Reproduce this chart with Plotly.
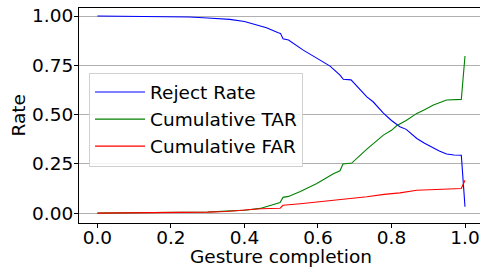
import plotly.graph_objects as go

reject_x = [0.0, 0.1, 0.2, 0.25, 0.3, 0.36, 0.40, 0.434, 0.46, 0.492, 0.498, 0.505, 0.52, 0.56, 0.60, 0.633, 0.66, 0.669, 0.69, 0.733, 0.75, 0.778, 0.80, 0.823, 0.84, 0.869, 0.89, 0.914, 0.93, 0.95, 0.97, 0.99, 1.0]
reject_y = [1.0, 0.999, 0.997, 0.995, 0.99, 0.983, 0.972, 0.954, 0.94, 0.915, 0.912, 0.885, 0.878, 0.827, 0.785, 0.746, 0.70, 0.679, 0.676, 0.59, 0.565, 0.507, 0.47, 0.438, 0.425, 0.379, 0.355, 0.33, 0.315, 0.30, 0.295, 0.294, 0.032]

tar_x = [0.0, 0.2, 0.3, 0.35, 0.40, 0.443, 0.47, 0.497, 0.505, 0.52, 0.552, 0.597, 0.642, 0.66, 0.668, 0.692, 0.733, 0.778, 0.80, 0.814, 0.84, 0.869, 0.89, 0.914, 0.95, 0.99, 1.0]
tar_y = [0.0, 0.003, 0.006, 0.01, 0.015, 0.024, 0.04, 0.054, 0.08, 0.085, 0.11, 0.15, 0.20, 0.215, 0.249, 0.254, 0.325, 0.396, 0.42, 0.443, 0.47, 0.506, 0.525, 0.548, 0.574, 0.577, 0.797]

far_x = [0.0, 0.2, 0.3, 0.35, 0.40, 0.443, 0.497, 0.505, 0.552, 0.60, 0.642, 0.6875, 0.733, 0.78, 0.823, 0.869, 0.92, 0.99, 1.0]
far_y = [0.0, 0.002, 0.005, 0.008, 0.015, 0.022, 0.025, 0.04, 0.048, 0.057, 0.066, 0.074, 0.083, 0.095, 0.103, 0.116, 0.121, 0.125, 0.167]

x_ticks = [0.0, 0.2, 0.4, 0.6, 0.8, 1.0]
y_ticks = [0.0, 0.25, 0.5, 0.75, 1.0]

FONT = "DejaVu Sans"
FS = 18.5

fig = go.Figure()
fig.add_trace(go.Scatter(x=reject_x, y=reject_y, mode="lines", name="Reject Rate",
                         line=dict(color="blue", width=1.1)))
fig.add_trace(go.Scatter(x=tar_x, y=tar_y, mode="lines", name="Cumulative TAR",
                         line=dict(color="green", width=1.1)))
fig.add_trace(go.Scatter(x=far_x, y=far_y, mode="lines", name="Cumulative FAR",
                         line=dict(color="red", width=1.1)))

fig.update_layout(
    width=480, height=271,
    margin=dict(l=79, r=0, t=8, b=48, autoexpand=False),
    paper_bgcolor="white", plot_bgcolor="white",
    font=dict(family=FONT, size=FS, color="black"),
    legend=dict(x=0.025, y=0.70, xanchor="left", yanchor="top",
                bgcolor="rgba(255,255,255,0.85)", bordercolor="#d0d0d0", borderwidth=1,
                font=dict(size=FS), tracegroupgap=0, itemwidth=50),
    showlegend=True,
)
fig.update_xaxes(range=[-0.05, 1.0408], tickvals=x_ticks, tickformat=".1f",
                 showgrid=False, zeroline=False, showline=True, linecolor="black",
                 linewidth=1, mirror=True, ticks="outside", ticklen=4, tickcolor="black",
                 automargin=False, ticklabelstandoff=-6)
fig.update_yaxes(range=[-0.05, 1.0406], tickvals=y_ticks, tickformat=".2f",
                 showgrid=True, gridcolor="#b0b0b0", gridwidth=1, zeroline=False,
                 showline=True, linecolor="black", linewidth=1, ticks="outside",
                 ticklen=4, tickcolor="black", automargin=False, ticklabelstandoff=-3)
# axis titles
fig.add_annotation(text="Gesture completion", xref="x", yref="paper", x=0.5, y=0,
                   xanchor="center", yanchor="middle", yshift=-33, showarrow=False,
                   font=dict(size=FS))
fig.add_annotation(text="Rate", xref="paper", yref="paper", x=0, y=0.5,
                   xanchor="center", yanchor="middle", xshift=-61, textangle=-90,
                   showarrow=False, font=dict(size=FS))

fig.write_html("out.html", config={"displayModeBar": False})
with open("out.html", "r", encoding="utf-8") as f:
    html = f.read()
html = html.replace("<body>", '<body style="margin:0;padding:0;overflow:hidden">', 1)
with open("out.html", "w", encoding="utf-8") as f:
    f.write(html)
